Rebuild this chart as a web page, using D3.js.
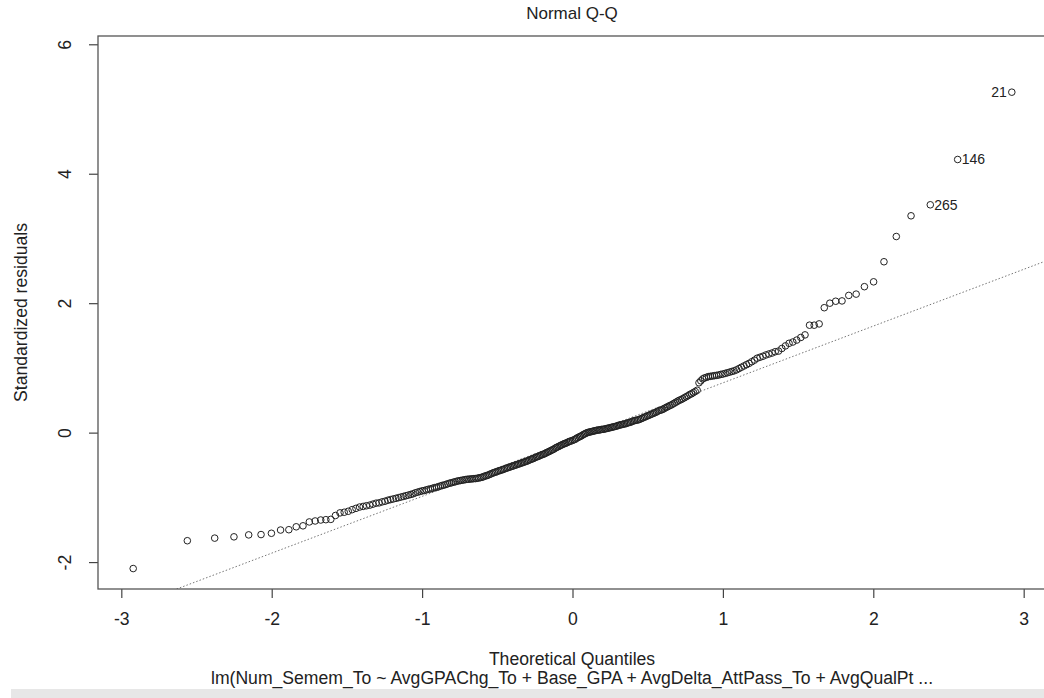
<!DOCTYPE html>
<html>
<head>
<meta charset="utf-8">
<script src="https://cdn.jsdelivr.net/npm/d3@7"></script>
<style>
  html, body { margin: 0; padding: 0; background: #fff; }
  svg { display: block; }
</style>
</head>
<body>
<svg id="chart" width="1044" height="698"></svg>
<script>
// theoretical quantiles (x) and standardized residuals (y)
const theoQ = [
  -2.921,-2.561,-2.379,-2.251,-2.153,-2.071,-2.002,-1.941,-1.886,-1.837,
  -1.792,-1.750,-1.711,-1.674,-1.640,-1.607,-1.576,-1.546,-1.518,-1.491,
  -1.465,-1.440,-1.416,-1.392,-1.370,-1.348,-1.327,-1.306,-1.286,-1.266,
  -1.247,-1.228,-1.210,-1.192,-1.174,-1.157,-1.140,-1.123,-1.107,-1.091,
  -1.075,-1.060,-1.045,-1.030,-1.015,-1.000,-0.986,-0.972,-0.958,-0.944,
  -0.931,-0.917,-0.904,-0.891,-0.878,-0.866,-0.853,-0.841,-0.829,-0.816,
  -0.804,-0.792,-0.780,-0.768,-0.756,-0.745,-0.733,-0.722,-0.710,-0.699,
  -0.688,-0.677,-0.666,-0.655,-0.644,-0.633,-0.623,-0.612,-0.601,-0.591,
  -0.581,-0.570,-0.560,-0.550,-0.540,-0.530,-0.520,-0.510,-0.500,-0.490,
  -0.480,-0.470,-0.461,-0.451,-0.441,-0.432,-0.422,-0.413,-0.403,-0.394,
  -0.385,-0.375,-0.366,-0.357,-0.347,-0.338,-0.329,-0.320,-0.311,-0.302,
  -0.293,-0.283,-0.274,-0.265,-0.257,-0.248,-0.239,-0.230,-0.221,-0.212,
  -0.203,-0.194,-0.185,-0.177,-0.168,-0.159,-0.150,-0.142,-0.133,-0.124,
  -0.115,-0.107,-0.098,-0.089,-0.081,-0.072,-0.063,-0.054,-0.046,-0.037,
  -0.028,-0.020,-0.011,0.000,0.011,0.020,0.028,0.037,0.046,0.054,
  0.063,0.072,0.081,0.089,0.098,0.107,0.115,0.124,0.133,0.142,
  0.150,0.159,0.168,0.177,0.185,0.194,0.203,0.212,0.221,0.230,
  0.239,0.248,0.257,0.265,0.274,0.283,0.293,0.302,0.311,0.320,
  0.329,0.338,0.347,0.357,0.366,0.375,0.385,0.394,0.403,0.413,
  0.422,0.432,0.441,0.451,0.461,0.470,0.480,0.490,0.500,0.510,
  0.520,0.530,0.540,0.550,0.560,0.570,0.581,0.591,0.601,0.612,
  0.623,0.633,0.644,0.655,0.666,0.677,0.688,0.699,0.710,0.722,
  0.733,0.745,0.756,0.768,0.780,0.792,0.804,0.816,0.829,0.841,
  0.853,0.866,0.878,0.891,0.904,0.917,0.931,0.944,0.958,0.972,
  0.986,1.000,1.015,1.030,1.045,1.060,1.075,1.091,1.107,1.123,
  1.140,1.157,1.174,1.192,1.210,1.228,1.247,1.266,1.286,1.306,
  1.327,1.348,1.370,1.392,1.416,1.440,1.465,1.491,1.518,1.546,
  1.576,1.607,1.640,1.674,1.711,1.750,1.792,1.837,1.886,1.941,
  2.002,2.071,2.153,2.251,2.379,2.561,2.921
];

const stdResid = [
  -2.10,-1.67,-1.63,-1.61,-1.58,-1.575,-1.555,-1.505,-1.50,-1.455,
  -1.44,-1.38,-1.365,-1.35,-1.345,-1.34,-1.28,-1.24,-1.23,-1.215,
  -1.19,-1.17,-1.15,-1.14,-1.13,-1.12,-1.105,-1.09,-1.085,-1.07,
  -1.06,-1.045,-1.035,-1.025,-1.015,-1.005,-0.995,-0.985,-0.975,-0.965,
  -0.955,-0.945,-0.93,-0.92,-0.91,-0.90,-0.895,-0.885,-0.875,-0.87,
  -0.86,-0.85,-0.845,-0.835,-0.825,-0.815,-0.81,-0.80,-0.79,-0.78,
  -0.775,-0.765,-0.76,-0.75,-0.745,-0.74,-0.735,-0.73,-0.725,-0.72,
  -0.72,-0.715,-0.715,-0.71,-0.71,-0.705,-0.70,-0.695,-0.69,-0.68,
  -0.67,-0.665,-0.655,-0.645,-0.635,-0.625,-0.615,-0.61,-0.60,-0.59,
  -0.585,-0.575,-0.57,-0.56,-0.55,-0.545,-0.535,-0.53,-0.52,-0.515,
  -0.505,-0.50,-0.49,-0.485,-0.475,-0.47,-0.46,-0.455,-0.445,-0.44,
  -0.43,-0.42,-0.41,-0.405,-0.395,-0.385,-0.375,-0.37,-0.36,-0.35,
  -0.34,-0.335,-0.325,-0.315,-0.305,-0.295,-0.285,-0.275,-0.265,-0.255,
  -0.24,-0.23,-0.22,-0.21,-0.20,-0.19,-0.18,-0.17,-0.165,-0.155,
  -0.145,-0.135,-0.13,-0.12,-0.11,-0.10,-0.085,-0.075,-0.065,-0.055,
  -0.045,-0.03,-0.02,-0.01,0.00,0.005,0.01,0.015,0.02,0.025,
  0.03,0.035,0.04,0.04,0.045,0.05,0.05,0.055,0.06,0.065,
  0.07,0.075,0.08,0.085,0.09,0.095,0.10,0.11,0.115,0.12,
  0.125,0.13,0.135,0.14,0.15,0.155,0.16,0.17,0.18,0.185,
  0.19,0.195,0.20,0.21,0.22,0.23,0.24,0.25,0.26,0.27,
  0.28,0.29,0.30,0.31,0.32,0.335,0.345,0.35,0.36,0.375,
  0.39,0.40,0.415,0.425,0.44,0.455,0.47,0.485,0.50,0.51,
  0.525,0.54,0.555,0.57,0.59,0.60,0.62,0.635,0.655,0.77,
  0.80,0.83,0.845,0.855,0.865,0.87,0.875,0.88,0.885,0.89,
  0.90,0.905,0.915,0.925,0.935,0.945,0.955,0.97,0.99,1.01,
  1.03,1.05,1.07,1.095,1.12,1.15,1.165,1.18,1.20,1.215,
  1.23,1.25,1.26,1.30,1.34,1.38,1.40,1.43,1.47,1.51,
  1.66,1.66,1.68,1.93,2.00,2.03,2.035,2.12,2.14,2.255,
  2.33,2.64,3.03,3.35,3.52,4.22,5.26
];

// labelled extreme observations: index into the arrays, observation id, side
const flagged = [
  { idx: 286, id: '21', side: 'left' },
  { idx: 285, id: '146', side: 'right' },
  { idx: 284, id: '265', side: 'right' }
];

const xTicks = [-3, -2, -1, 0, 1, 2, 3];
const yTicks = [-2, 0, 2, 4, 6];

// reference line through the quartiles
const lineIntercept = -0.108;
const lineSlope = 0.877;

const title = 'Normal Q-Q';
const xTitle = 'Theoretical Quantiles';
const yTitle = 'Standardized residuals';
const subTitle = 'lm(Num_Semem_To ~ AvgGPAChg_To + Base_GPA + AvgDelta_AttPass_To + AvgQualPt ...';

const style = {
  font: "'Liberation Sans', Arial, Helvetica, sans-serif",
  fontSize: 17.6,
  textColor: '#222',
  boxColor: '#555',
  pointColor: '#222',
  lineColor: '#777'
};

const svg = d3.select('#chart');
const W = +svg.attr('width');
const H = +svg.attr('height');

const plot = { left: 98, right: 1047, top: 36, bottom: 589 };

const xScale = d3.scaleLinear().domain([-3.155, 3.155]).range([plot.left, plot.right]);
const yScale = d3.scaleLinear().domain([-2.416, 6.128]).range([plot.bottom, plot.top]);

const data = theoQ.map((q, i) => ({ q, r: stdResid[i] }));

// gray strip at the very bottom of the screenshot
svg.append('rect')
  .attr('x', 11).attr('y', 689).attr('width', W - 11).attr('height', H - 689)
  .attr('fill', '#e7e7e7');

svg.append('clipPath').attr('id', 'clip')
  .append('rect')
  .attr('x', plot.left).attr('y', plot.top)
  .attr('width', plot.right - plot.left).attr('height', plot.bottom - plot.top);

// dotted qq line
const lx = xScale.domain();
svg.append('line')
  .attr('clip-path', 'url(#clip)')
  .attr('x1', xScale(lx[0])).attr('y1', yScale(lineIntercept + lineSlope * lx[0]))
  .attr('x2', xScale(lx[1])).attr('y2', yScale(lineIntercept + lineSlope * lx[1]))
  .attr('stroke', style.lineColor)
  .attr('stroke-width', 1)
  .attr('stroke-dasharray', '1.5,2');

// points
svg.append('g')
  .selectAll('circle')
  .data(data)
  .enter()
  .append('circle')
    .attr('cx', d => xScale(d.q))
    .attr('cy', d => yScale(d.r))
    .attr('r', 3.3)
    .attr('fill', 'none')
    .attr('stroke', style.pointColor)
    .attr('stroke-width', 1);

// point labels
svg.append('g')
  .selectAll('text')
  .data(flagged)
  .enter()
  .append('text')
    .attr('x', d => xScale(data[d.idx].q) + (d.side === 'left' ? -5 : 4))
    .attr('y', d => yScale(data[d.idx].r))
    .attr('dy', '0.35em')
    .attr('text-anchor', d => d.side === 'left' ? 'end' : 'start')
    .style('font-family', style.font)
    .style('font-size', '14px')
    .attr('fill', style.textColor)
    .text(d => d.id);

// axes (R prints a plain hyphen for negatives)
const xAxis = d3.axisBottom(xScale).tickValues(xTicks).tickSize(9).tickPadding(15).tickFormat(d => String(d));
const xAxisSel = svg.append('g')
  .attr('transform', `translate(0, ${plot.bottom})`)
  .call(xAxis);

const yAxis = d3.axisLeft(yScale).tickValues(yTicks).tickSize(9).tickFormat(d => String(d));
const yAxisSel = svg.append('g')
  .attr('transform', `translate(${plot.left}, 0)`)
  .call(yAxis);

[xAxisSel, yAxisSel].forEach(sel => {
  sel.select('.domain').remove();
  sel.selectAll('.tick line').attr('stroke', '#444').attr('stroke-width', 1.2);
  sel.selectAll('.tick text')
    .attr('fill', style.textColor)
    .style('font-family', style.font)
    .style('font-size', style.fontSize + 'px');
});

yAxisSel.selectAll('.tick text')
  .attr('x', null).attr('dy', null)
  .attr('text-anchor', 'middle')
  .attr('transform', 'translate(-33, 0) rotate(-90)')
  .attr('dy', '0.35em');

// box
svg.append('rect')
  .attr('x', plot.left).attr('y', plot.top)
  .attr('width', plot.right - plot.left).attr('height', plot.bottom - plot.top)
  .attr('fill', 'none')
  .attr('stroke', style.boxColor)
  .attr('stroke-width', 1.3);

// titles
const textStyle = sel => sel
  .style('font-family', style.font)
  .style('font-size', style.fontSize + 'px')
  .attr('fill', style.textColor)
  .attr('text-anchor', 'middle');

svg.append('text').call(textStyle)
  .attr('x', 572).attr('y', 19)
  .style('font-size', '17px')
  .text(title);

svg.append('text').call(textStyle)
  .attr('x', 572).attr('y', 665)
  .text(xTitle);

svg.append('text').call(textStyle)
  .attr('x', 572).attr('y', 684)
  .text(subTitle);

svg.append('text').call(textStyle)
  .attr('transform', `translate(27, ${(plot.top + plot.bottom) / 2}) rotate(-90)`)
  .text(yTitle);
</script>
</body>
</html>
